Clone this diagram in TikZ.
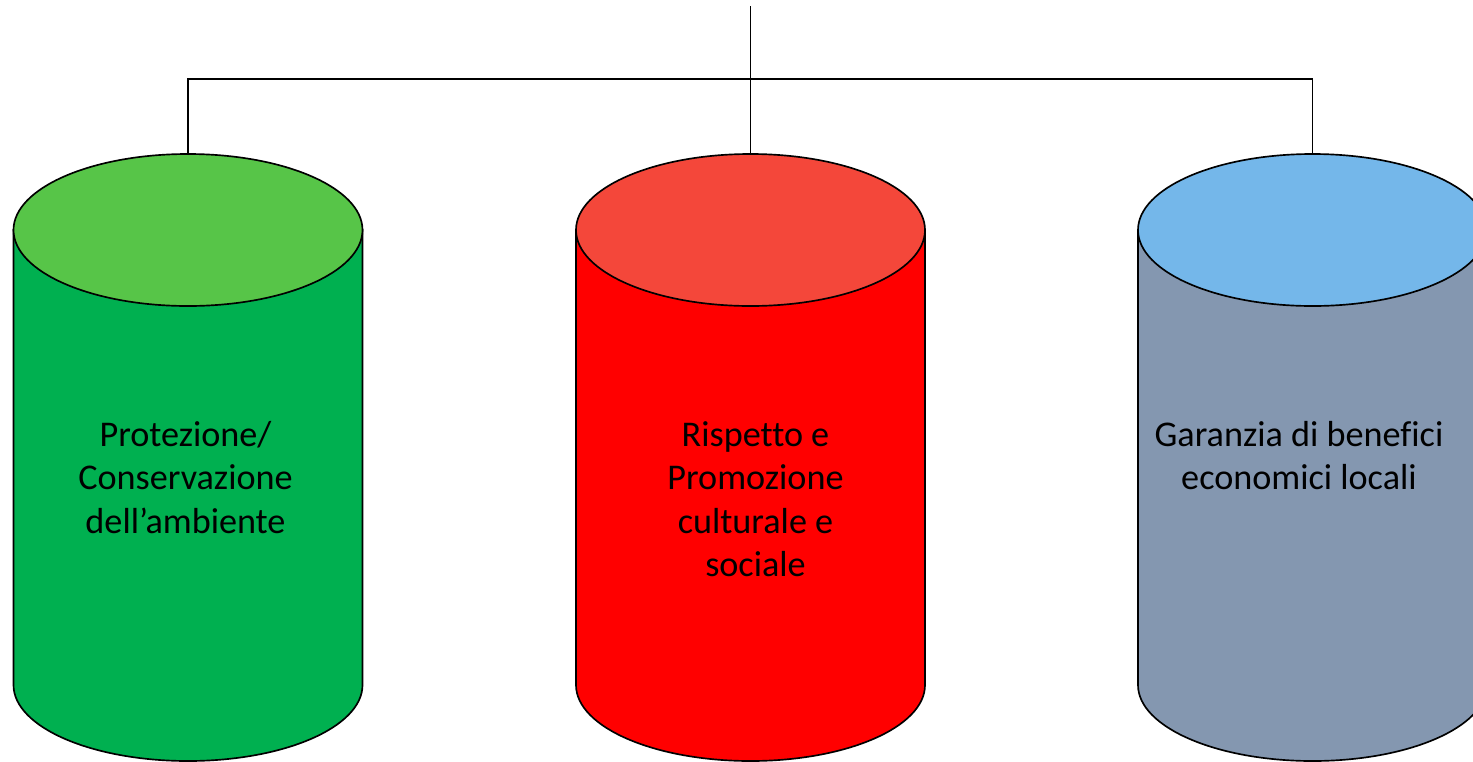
\documentclass[tikz,border=0pt]{standalone}
\usepackage{fontspec}
\setmainfont[Ligatures=NoCommon]{Carlito}
\definecolor{envlight}{RGB}{87,197,72}
\definecolor{envdark}{RGB}{0,176,80}
\definecolor{cultlight}{RGB}{244,71,58}
\definecolor{cultdark}{RGB}{255,0,0}
\definecolor{ecolight}{RGB}{116,183,234}
\definecolor{ecodark}{RGB}{132,151,176}
\tikzset{pillar/.style={draw=black,line width=0.95pt},
  pillartext/.style={align=center,inner sep=0pt,anchor=north,font=\fontsize{20.6}{24.7}\selectfont}}

\begin{document}
\begin{tikzpicture}[x=0.02cm,y=0.02cm]
\useasboundingbox (0,0) rectangle (1473,-761);
\foreach \cx/\body/\lid in {188/envdark/envlight,750.5/cultdark/cultlight,1312.5/ecodark/ecolight}
{
  \draw [pillar,fill=\body] (\cx-174.5,-230) -- (\cx-174.5,-685) arc [start angle=180,end angle=360,x radius=174.5,y radius=76] -- (\cx+174.5,-230) -- cycle;
  \draw [pillar,fill=\lid] (\cx,-230) ellipse [x radius=174.5,y radius=76];
}
\coordinate (root) at (750.5,-6);
\coordinate (hub) at (750.5,-79);
\coordinate (envtop) at (188,-154);
\coordinate (culttop) at (750.5,-154);
\coordinate (ecotop) at (1312.5,-154);
\draw [line width=1.1pt] (root) -- (hub);
\draw [line width=0.6pt] (hub) -- (culttop);
\draw [line width=0.6pt] (envtop) |- (hub) -| (ecotop);
\node [pillartext] (envtext) at (185.5,-421) {Protezione/\\Conservazione\\dell’ambiente};
\node [pillartext] (culttext) at (755.5,-421) {Rispetto e\\Promozione\\culturale e\\sociale};
\node [pillartext] (ecotext) at (1299,-421) {Garanzia di benefici\\economici locali};
\end{tikzpicture}
\end{document}
